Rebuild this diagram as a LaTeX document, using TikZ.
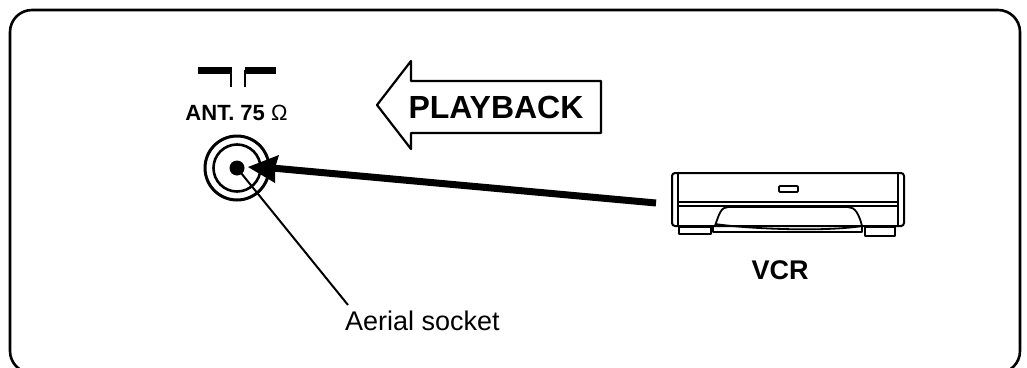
\documentclass[tikz,border=0pt]{standalone}
\usepackage{fontspec}
\setmainfont{Liberation Sans}
\tikzset{
  frame/.style={draw,line width=2.6pt,rounded corners=22pt},
  lbl/.style={inner sep=0pt,font=\bfseries\fontsize{22}{22}\selectfont},
  vcrline/.style={line width=1.8pt,line join=round},
}
\begin{document}
\begin{tikzpicture}[x=1pt,y=-1pt]
\useasboundingbox (0,0) rectangle (1027,367);
\clip (0,0) rectangle (1027,367);
\draw[frame] (10,10) rectangle (1020,373);
% switch symbols
\fill (198,67) rectangle (232,74);
\fill (245,67) rectangle (276,74);
\draw[line width=2.2pt] (231,70) -- (231,87);
\draw[line width=2.2pt] (245,70) -- (245,87);
\node[lbl] (ant) at (236.5,113) {ANT. 75 {\mdseries Ω}};
% socket
\coordinate (sc) at (237,168);
\draw[line width=3pt] (sc) circle (32);
\draw[line width=2.6pt] (sc) circle (23.5);
\fill (sc) circle (7.5);
\node[inner sep=0pt,outer sep=0pt,minimum size=0pt] (socket) at (sc) {};
% playback arrow
\draw[line width=2.2pt,line join=round] (377,105) -- (411,61) -- (411,81) -- (601,81) -- (601,133) -- (411,133) -- (411,149) -- cycle;
\node[inner sep=0pt,font=\bfseries\fontsize{32}{32}\selectfont] (pb) at (496,107) {PLAYBACK};
% VCR
\draw[vcrline,rounded corners=3pt,line width=2pt] (672,173) rectangle (904,226);
\draw[vcrline] (678,173) -- (678,226);
\draw[vcrline] (898,173) -- (898,226);
\draw[line width=2.4pt] (678,202) -- (898,202);
\draw[line width=1.2pt] (678,206) -- (898,206);
\draw[vcrline,rounded corners=1pt] (779,186) rectangle (798,192);
\draw[vcrline] (715,226) .. controls (719,214) and (721,207) .. (728,207) -- (848,207) .. controls (855,207) and (859,214) .. (862,226);
\draw[vcrline] (715,224) .. controls (750,229) and (825,232) .. (862,226);
\draw[vcrline] (713,226) -- (713,232) -- (862,232) -- (862,226);
\draw[vcrline] (679,227) rectangle (711,234);
\draw[vcrline] (865,227) rectangle (895,236);
\node[inner sep=0pt,outer sep=0pt,minimum size=0pt] (vcr) at (656,203) {};
\node[lbl,font=\bfseries\fontsize{27}{27}\selectfont] (vcrlabel) at (780,270) {VCR};
% connector
\coordinate (tip) at (248,167);
\fill (tip) -- (279,155) -- (275,168) -- (275,183) -- cycle;
\draw[line width=7pt] (vcr) -- (272,168);
% aerial label
\node[inner sep=0pt,font=\fontsize{27}{27}\selectfont] (aer) at (422.5,321) {Aerial socket};
\coordinate (aerend) at (348,305);
\draw[line width=2pt] (socket) -- (aerend);
\end{tikzpicture}
\end{document}
